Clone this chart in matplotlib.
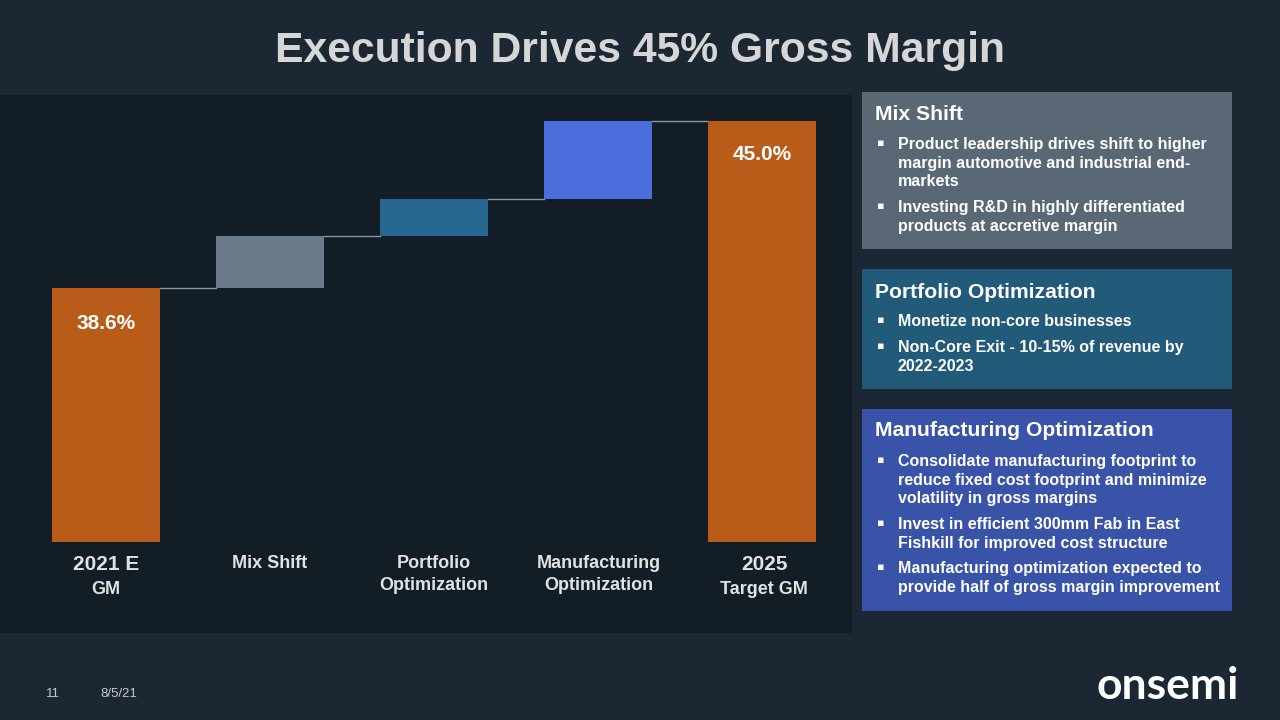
import matplotlib
matplotlib.use("Agg")
import matplotlib.pyplot as plt
from matplotlib.patches import Rectangle

# data
categories = ["2021 E\nGM", "Mix Shift", "Portfolio\nOptimization", "Manufacturing\nOptimization", "2025\nTarget GM"]
start_gm = 38.6
steps = [2.0, 1.4, 3.0]
end_gm = 45.0
value_labels = ["38.6%", "45.0%"]
axis_floor = 28.86
axis_top = 45.92

title = "Execution Drives 45% Gross Margin"
box_titles = ["Mix Shift", "Portfolio Optimization", "Manufacturing Optimization"]
box_bullets = [
    ["Product leadership drives shift to higher\nmargin automotive and industrial end-\nmarkets",
     "Investing R&D in highly differentiated\nproducts at accretive margin"],
    ["Monetize non-core businesses",
     "Non-Core Exit - 10-15% of revenue by\n2022-2023"],
    ["Consolidate manufacturing footprint to\nreduce fixed cost footprint and minimize\nvolatility in gross margins",
     "Invest in efficient 300mm Fab in East\nFishkill for improved cost structure",
     "Manufacturing optimization expected to\nprovide half of gross margin improvement"],
]

BG = "#1b2733"
PANEL = "#131d25"
ORANGE = "#b95b19"
step_colors = ["#6b7b8a", "#27678f", "#4a6edb"]
box_colors = ["#5a6875", "#225a7a", "#3953a8"]
NARROW = ["Liberation Sans Narrow", "Liberation Sans", "DejaVu Sans"]
SANS = ["Liberation Sans", "DejaVu Sans"]

W, H = 1280, 720
fig = plt.figure(figsize=(12.8, 7.2), dpi=100)
fig.patch.set_facecolor(BG)

def fx(px):
    return px / W

def fy(py):
    return 1 - py / H

# dark chart panel (behind the axes)
fig.patches.append(Rectangle((0, fy(633)), fx(852), fy(95) - fy(633),
                             transform=fig.transFigure, facecolor=PANEL, edgecolor="none", zorder=-1))

ax = fig.add_axes([fx(24), fy(542), fx(820), fy(97) - fy(542)])
ax.set_zorder(2)
ax.set_facecolor("none")
ax.set_xlim(-0.5, 4.5)
ax.set_ylim(axis_floor, axis_top)
for s in ax.spines.values():
    s.set_visible(False)
ax.set_xticks([])
ax.set_yticks([])

width = 0.66
# totals
ax.bar(0, start_gm - axis_floor, bottom=axis_floor, width=width, color=ORANGE, zorder=2)
ax.bar(4, end_gm - axis_floor, bottom=axis_floor, width=width, color=ORANGE, zorder=2)

level = start_gm
levels = [start_gm]
for i, st in enumerate(steps):
    ax.bar(i + 1, st, bottom=level, width=width, color=step_colors[i], zorder=2)
    level += st
    levels.append(level)

# connectors
for i, lv in enumerate(levels):
    ax.plot([i + width / 2, i + 1 - width / 2], [lv, lv], color="#8c959e", lw=1.0, zorder=1)

ax.text(0, start_gm - 1.35, value_labels[0], ha="center", va="center", color="white",
        fontsize=15, fontweight="bold", family=NARROW)
ax.text(4, end_gm - 1.27, value_labels[1], ha="center", va="center", color="white",
        fontsize=15, fontweight="bold", family=NARROW)

# category labels
label_x = [106, 270, 434, 599, 764]
for i, c in enumerate(categories):
    if i in (0, 4):
        top, bot = c.split("\n")
        fig.text(fx(label_x[i]), fy(565), top, ha="center", va="center", color="#e2e2e2",
                 fontsize=15, fontweight="bold", family=NARROW)
        fig.text(fx(label_x[i]), fy(589), bot, ha="center", va="center", color="#e2e2e2",
                 fontsize=13, fontweight="bold", family=NARROW)
    else:
        for j, line in enumerate(c.split("\n")):
            fig.text(fx(label_x[i]), fy(563 + 22 * j), line, ha="center", va="center",
                     color="#e2e2e2", fontsize=13, fontweight="bold", family=NARROW)

# title
fig.text(0.5, fy(51), title, ha="center", va="center", color="#d6d6d6",
         fontsize=30.7, fontweight="bold", family=SANS)

# right boxes
box_y = [(92, 249), (269, 389), (409, 611)]
head_y = [115, 292, 431]
bullet_y = [[143, 206], [320, 346], [460, 523, 567]]
for k in range(3):
    y0, y1 = box_y[k]
    fig.patches.append(Rectangle((fx(862), fy(y1)), fx(1232 - 862), fy(y0) - fy(y1),
                                 transform=fig.transFigure, facecolor=box_colors[k],
                                 edgecolor="none", zorder=1))
    fig.text(fx(875), fy(head_y[k]), box_titles[k], ha="left", va="center", color="white",
             fontsize=15.2, fontweight="bold", family=SANS)
    for b, txt in enumerate(box_bullets[k]):
        yb = bullet_y[k][b]
        fig.text(fx(877), fy(yb), "\u25aa", ha="left", va="center", color="white",
                 fontsize=8, family=["DejaVu Sans"])
        fig.text(fx(898), fy(yb - 6), txt, ha="left", va="top", color="white",
                 fontsize=11.5, fontweight="bold", family=SANS, linespacing=1.3)

# footer
fig.text(fx(46), fy(694), "11", ha="left", va="center", color="#c8c8c8", fontsize=9.5, family=SANS)
fig.text(fx(100), fy(694), "8/5/21", ha="left", va="center", color="#c8c8c8", fontsize=9.5, family=SANS)
fig.text(fx(1096), fy(686), "onsemi", ha="left", va="center", color="white", fontsize=32,
         fontweight="bold", family=["Lato", "DejaVu Sans"])

fig.savefig("out.png", dpi=100, facecolor=BG)
